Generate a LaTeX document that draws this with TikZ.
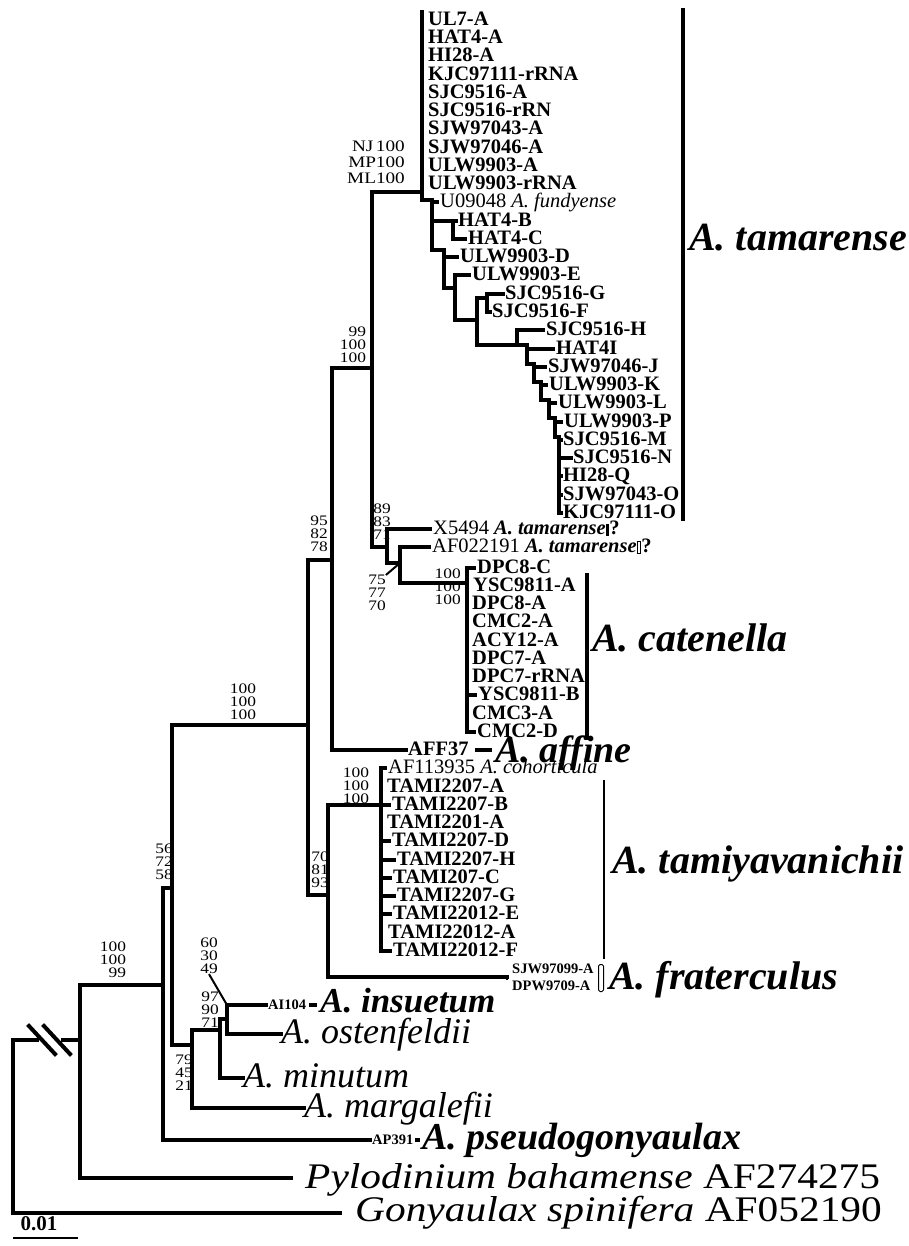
\documentclass[tikz,border=0pt]{standalone}
\usepackage{fontspec}
\setmainfont{Liberation Serif}
\newfontfamily\bootfont[FakeStretch=1.2]{Liberation Serif}
\usetikzlibrary{positioning}

\newcommand{\tipsize}{\fontsize{20.5}{20.5}\selectfont}
\newcommand{\smallsize}{\fontsize{14.5}{14.5}\selectfont}
\newcommand{\bootsize}{\bootfont\fontsize{14.5}{13}\selectfont}
\newcommand{\cladesize}{\fontsize{40}{40}\selectfont}
\newcommand{\specsize}{\fontsize{36}{36}\selectfont}

\tikzset{
  br/.style={line width=4pt, line cap=rect},
  thinbr/.style={line width=2pt},
  tip/.style={anchor=west, inner sep=0pt, font=\tipsize\bfseries,
    text height=13.5pt, text depth=2.5pt},
  plaintip/.style={tip, font=\tipsize},
  smalltip/.style={tip, font=\smallsize\bfseries, text height=10pt, text depth=2pt},
  boot/.style={inner sep=0pt, align=right, font=\bootsize},
  clade/.style={anchor=west, inner sep=0pt, font=\cladesize\bfseries\itshape,
    text height=26pt, text depth=4pt},
  species/.style={anchor=west, inner sep=0pt, font=\specsize\itshape,
    text height=24pt, text depth=5pt},
  bar/.style={line width=4.5pt},
}

\begin{document}
\begin{tikzpicture}[x=1pt, y=-1pt]
\useasboundingbox (0,0) rectangle (909,1246);

% ---- A. tamarense: tips
\foreach \lbl [count=\i] in {UL7-A, HAT4-A, HI28-A, KJC97111-rRNA, SJC9516-A,
    SJC9516-rRN, SJW97043-A, SJW97046-A, ULW9903-A, ULW9903-rRNA}
  \node[tip] (ta\i) at (428, {20+18.25*(\i-1)}) {\lbl};
\node[plaintip] (ta11) at (440, 202.5) {U09048 \textit{A. fundyense}};
\node[tip] (ta12) at (458, 220.8) {HAT4-B};
\node[tip] (ta13) at (468, 239)   {HAT4-C};
\node[tip] (ta14) at (460, 257.3) {ULW9903-D};
\node[tip] (ta15) at (472, 275.5) {ULW9903-E};
\node[tip] (ta16) at (505, 293.8) {SJC9516-G};
\node[tip] (ta17) at (492, 312)   {SJC9516-F};
\node[tip] (ta18) at (546, 330.3) {SJC9516-H};
\node[tip] (ta19) at (556, 348.5) {HAT4I};
\node[tip] (ta20) at (548, 366.8) {SJW97046-J};
\node[tip] (ta21) at (549, 385)   {ULW9903-K};
\node[tip] (ta22) at (558, 403.3) {ULW9903-L};
\node[tip] (ta23) at (564, 421.5) {ULW9903-P};
\node[tip] (ta24) at (563, 439.8) {SJC9516-M};
\node[tip] (ta25) at (573, 458)   {SJC9516-N};
\node[tip] (ta26) at (563, 476.3) {HI28-Q};
\node[tip] (ta27) at (563, 494.5) {SJW97043-O};
\node[tip] (ta28) at (563, 512.8) {KJC97111-O};

% ---- A. tamarense: ladder
\coordinate (t0) at (422,192);
\coordinate (t1) at (432,200);
\coordinate (thc) at (453,221);
\coordinate (t2) at (444,250);
\coordinate (t3) at (455,288);
\coordinate (t4) at (477,320);
\coordinate (tgf) at (487,298);
\coordinate (t5) at (517,345);
\coordinate (t6) at (527,345);
\coordinate (t7) at (534,364);
\coordinate (t8) at (541,382);
\coordinate (t9) at (549,400);
\coordinate (t10) at (555,418);
\coordinate (t11) at (559,437);

\draw[br] (t0 |- ta1.north) -- (t0 |- t1) -- (t1);
\draw[br] (t1) -- (t1 |- t2) -- (t2);
\draw[br] (t1 |- ta11) -- ([xshift=-3pt]ta11.west);
\draw[br] (t1 |- thc) -- (thc);
\draw[br] (thc |- ta12) -- (thc |- ta13) -- ([xshift=-3pt]ta13.west);
\draw[br] (thc |- ta12) -- ([xshift=-2pt]ta12.west);
\draw[br] (t2) -- (t2 |- t3) -- (t3);
\draw[br] (t2 |- ta14) -- ([xshift=-3pt]ta14.west);
\draw[br] (t3 |- ta15) -- (t3 |- t4) -- (t4);
\draw[br] (t3 |- ta15) -- ([xshift=-3pt]ta15.west);
\draw[br] (t4 |- tgf) -- (t4 |- t5) -- (t5);
\draw[br] (t4 |- tgf) -- (tgf);
\draw[br] (tgf |- ta16) -- (tgf |- ta17) -- ([xshift=-2pt]ta17.west);
\draw[br] (tgf |- ta16) -- ([xshift=-2pt]ta16.west);
\draw[br] (t5 |- ta18) -- (t5) -- (t6);
\draw[br] (t5 |- ta18) -- ([xshift=-3pt]ta18.west);
\draw[br] (t6) -- (t6 |- t7) -- (t7);
\draw[br] (t6 |- ta19) -- ([xshift=-3pt]ta19.west);
\draw[br] (t7) -- (t7 |- t8) -- (t8);
\draw[br] (t7 |- ta20) -- ([xshift=-3pt]ta20.west);
\draw[br] (t8) -- (t8 |- t9) -- (t9);
\draw[br] (t8 |- ta21) -- ([xshift=-3pt]ta21.west);
\draw[br] (t9) -- (t9 |- t10) -- (t10);
\draw[br] (t9 |- ta22) -- ([xshift=-3pt]ta22.west);
\draw[br] (t10) -- (t10 |- t11) -- (t11);
\draw[br] (t10 |- ta23) -- ([xshift=-3pt]ta23.west);
\draw[br] (t11) -- (t11 |- ta28);
\foreach \k in {24,...,28}
  \draw[br] (t11 |- ta\k) -- ([xshift=-2pt]ta\k.west);

% ---- unplaced A. tamarense sequences and A. catenella
\node[plaintip] (tx)  at (433, 529)   {X5494 \textbf{\textit{A. tamarense}}\rule[-1pt]{3.5pt}{12pt}\textbf{?}};
\node[plaintip] (taf) at (432, 547) {AF022191 \textbf{\textit{A. tamarense}}%
  {\setlength{\fboxsep}{0pt}\setlength{\fboxrule}{0.8pt}\fbox{\rule{0pt}{11pt}\hspace{3pt}}}\textbf{?}};
\node[tip] (tc1)  at (477, 567.5) {DPC8-C};
\node[tip] (tc2)  at (473, 585.8) {YSC9811-A};
\node[tip] (tc3)  at (472, 604)   {DPC8-A};
\node[tip] (tc4)  at (472, 622.3) {CMC2-A};
\node[tip] (tc5)  at (472, 640.5) {ACY12-A};
\node[tip] (tc6)  at (472, 658.8) {DPC7-A};
\node[tip] (tc7)  at (472, 677)   {DPC7-rRNA};
\node[tip] (tc8)  at (478, 695.3) {YSC9811-B};
\node[tip] (tc9)  at (472, 713.5) {CMC3-A};
\node[tip] (tc10) at (477, 731.8) {CMC2-D};
\node[tip] (taff) at (408, 750)   {AFF37};

\coordinate (n99) at (372,368);
\coordinate (n89) at (387,547);
\coordinate (n75) at (400,563);
\coordinate (ncat) at (467,583);
\coordinate (n95) at (332,560);

\draw[br] (n99 |- t0) -- (t0);
\draw[br] (n99 |- t0) -- (n99 |- n89) -- (n89);
\draw[br] (n89 |- tx) -- (n89 |- n75) -- (n75);
\draw[br] (n89 |- tx) -- ([xshift=-3pt]tx.west);
\draw[br] (n75 |- taf) -- (n75 |- ncat) -- (ncat);
\draw[br] (n75 |- taf) -- ([xshift=-3pt]taf.west);
\draw[br] (ncat |- tc1) -- (ncat |- tc10) -- ([xshift=-3pt]tc10.west);
\draw[br] (ncat |- tc1) -- ([xshift=-3pt]tc1.west);
\draw[br] (ncat |- tc8) -- ([xshift=-3pt]tc8.west);
\draw[br] (n95 |- n99) -- (n99);
\draw[br] (n95 |- n99) -- (n95 |- taff) -- ([xshift=-2pt]taff.west);

% ---- A. tamiyavanichii and A. fraterculus
\node[plaintip] (tm1) at (388, 768.3) {AF113935 \textit{A. cohorticula}};
\node[tip] (tm2)  at (387, 786.5) {TAMI2207-A};
\node[tip] (tm3)  at (392, 804.8) {TAMI2207-B};
\node[tip] (tm4)  at (387, 823)   {TAMI2201-A};
\node[tip] (tm5)  at (392, 841.3) {TAMI2207-D};
\node[tip] (tm6)  at (397, 859.5) {TAMI2207-H};
\node[tip] (tm7)  at (393, 877.8) {TAMI207-C};
\node[tip] (tm8)  at (397, 896)   {TAMI2207-G};
\node[tip] (tm9)  at (393, 914.3) {TAMI22012-E};
\node[tip] (tm10) at (388, 932.5) {TAMI22012-A};
\node[tip] (tm11) at (393, 950.8) {TAMI22012-F};
\node[smalltip] (fr1) at (512, 969) {SJW97099-A};
\node[smalltip] (fr2) at (512, 986) {DPW9709-A};

\coordinate (n100a) at (308,725);
\coordinate (n70) at (328,895);
\coordinate (ntm) at (381,805);
\coordinate (nfr) at (507,977);

\draw[br] (n100a |- n95) -- (n95);
\draw[br] (n100a |- n95) -- (n100a |- n70) -- (n70);
\draw[br] (n70 |- ntm) -- (ntm);
\draw[br] (n70 |- ntm) -- (n70 |- nfr) -- (nfr);
\draw[br] (ntm |- tm1) -- (ntm |- tm11) -- ([xshift=-3pt]tm11.west);
\foreach \k in {1,3,5,6,7,8,9,11}
  \draw[br] (ntm |- tm\k) -- ([xshift=-3pt]tm\k.west);
\draw[thinbr] ([yshift=-6pt]nfr |- fr1) -- ([yshift=6pt]nfr |- fr2);

% ---- the other species
\node[smalltip] (tai) at (268, 1005) {AI104};
\node[species] (tos) at (281, 1034) {A. ostenfeldii};
\node[species] (tmn) at (243, 1078) {A. minutum};
\node[species] (tmg) at (304, 1108) {A. margalefii};
\node[smalltip] (tpg) at (372, 1140) {AP391};
\node[species, text depth=3pt] (tpy) at (305, 1178)
  {\scalebox{1.15}[1]{Pylodinium bahamense \textup{AF274275}}};
\node[species, text height=22pt] (tgo) at (355, 1213)
  {\scalebox{1.15}[1]{Gonyaulax spinifera \textup{AF052190}}};

\coordinate (n56) at (172,888);
\coordinate (n79) at (192,1045);
\coordinate (n97) at (220,1030);
\coordinate (n60) at (227,1019);
\coordinate (nps) at (163,985);
\coordinate (nbh) at (80,1040);
\coordinate (root) at (13,1040);

\draw[br] (n56 |- n100a) -- (n100a);
\draw[br] (n56 |- n100a) -- (n56 |- n79) -- (n79);
\draw[br] (n79 |- n97) -- (n97);
\draw[br] (n79 |- n97) -- (n79 |- tmg) -- (tmg.west);
\draw[br] (n97 |- n60) -- (n97 |- tmn) -- (tmn.west);
\draw[br] (n97 |- n60) -- (n60);
\draw[br] (n60 |- tai) -- (n60 |- tos) -- (tos.west);
\draw[br] (n60 |- tai) -- ([xshift=-2pt]tai.west);
\draw[br] (nps |- n56) -- (n56);
\draw[br] (nps |- n56) -- (nps |- tpg) -- ([xshift=-2pt]tpg.west);
\draw[br] (nbh |- nps) -- (nps);
\draw[br] (nbh |- nps) -- (nbh |- tpy) -- ([xshift=-14pt]tpy.west);
\draw[br] (root) -- ([xshift=24pt]root);
\draw[br] ([xshift=50pt]root) -- (nbh);
\draw[br] ([shift={(16pt,14pt)}]root) -- ([shift={(42pt,-14pt)}]root);
\draw[br] ([shift={(31pt,14pt)}]root) -- ([shift={(57pt,-14pt)}]root);
\draw[br] (root) -- (root |- tgo) -- ([xshift=-15pt]tgo.west);

% ---- bootstrap values (NJ / MP / ML)
\node[boot, anchor=east, font=\bootfont\fontsize{16}{16}\selectfont] (bnj) at (405,162) {NJ\,100\\MP100\\ML100};
\node[boot] (b99) at (353,345) {99\\100\\100};
\node[boot] (b89) at (382,522) {89\\83\\71};
\node[boot, anchor=east] (b95) at (328,534) {95\\82\\78};
\node[boot] (b75) at (377,593) {75\\77\\70};
\node[boot, anchor=east] (bcat) at (461,587) {100\\100\\100};
\node[boot] (b100a) at (243,702) {100\\100\\100};
\node[boot] (btm) at (356,786) {100\\100\\100};
\node[boot] (b70) at (320,870) {70\\81\\93};
\node[boot] (b56) at (164,862) {56\\72\\58};
\node[boot] (b100b) at (113,960) {100\\100\\99};
\node[boot] (b60) at (209,956) {60\\30\\49};
\node[boot] (b97) at (210,1010) {97\\90\\71};
\node[boot] (b79) at (184,1073) {79\\45\\21};
\draw[thinbr] (b75.north east) -- (n75);
\draw[thinbr] (b60.south) -- (n60 |- tai);

% ---- species labels and brackets
\node[clade] (ltam) at (689, 240) {A. tamarense};
\node[clade] (lcat) at (592, 640) {A. catenella};
\node[clade, font=\fontsize{38}{38}\selectfont\bfseries\itshape, text height=24pt, text depth=3pt]
  (laff) at (495, 752) {A. affine};
\node[clade] (ltmy) at (612, 862) {A. tamiyavanichii};
\node[clade] (lfra) at (609, 978) {A. fraterculus};
\node[clade, font=\fontsize{35}{35}\selectfont\bfseries\itshape, text height=23pt] (lins) at (320, 1003) {A. insuetum};
\node[clade, font=\fontsize{38}{38}\selectfont\bfseries\itshape] (lpsg) at (422, 1138) {A. pseudogonyaulax};
\draw[bar] (taff.east) ++(6pt,0) -- ([xshift=-3pt]laff.west |- taff);
\draw[bar] ([xshift=3pt]tai.east) -- ([xshift=-3pt]lins.west |- tai);
\draw[bar] ([xshift=2pt]tpg.east) -- ([xshift=-2pt]lpsg.west |- tpg);

\coordinate (ktam) at (683,8);
\coordinate (kcat) at (587,573);
\coordinate (ktmy) at (604,780);
\draw[bar] (ktam) -- (ktam |- ta28.south);
\draw[bar] (kcat) -- (kcat |- tc10.south);
\draw[line width=2.5pt] (ktmy) -- (ktmy |- tm11.south);
\node[draw, line width=1pt, rounded corners=1.5pt, minimum width=5pt, minimum height=27pt,
  inner sep=0pt] (kfra) at (601,978) {};

% ---- scale bar
\node[inner sep=0pt, font=\fontsize{21}{21}\selectfont\bfseries] (scl) at (39,1224) {0.01};
\draw[thinbr] (root |- 0,1238) -- (78,1238);

\end{tikzpicture}
\end{document}
